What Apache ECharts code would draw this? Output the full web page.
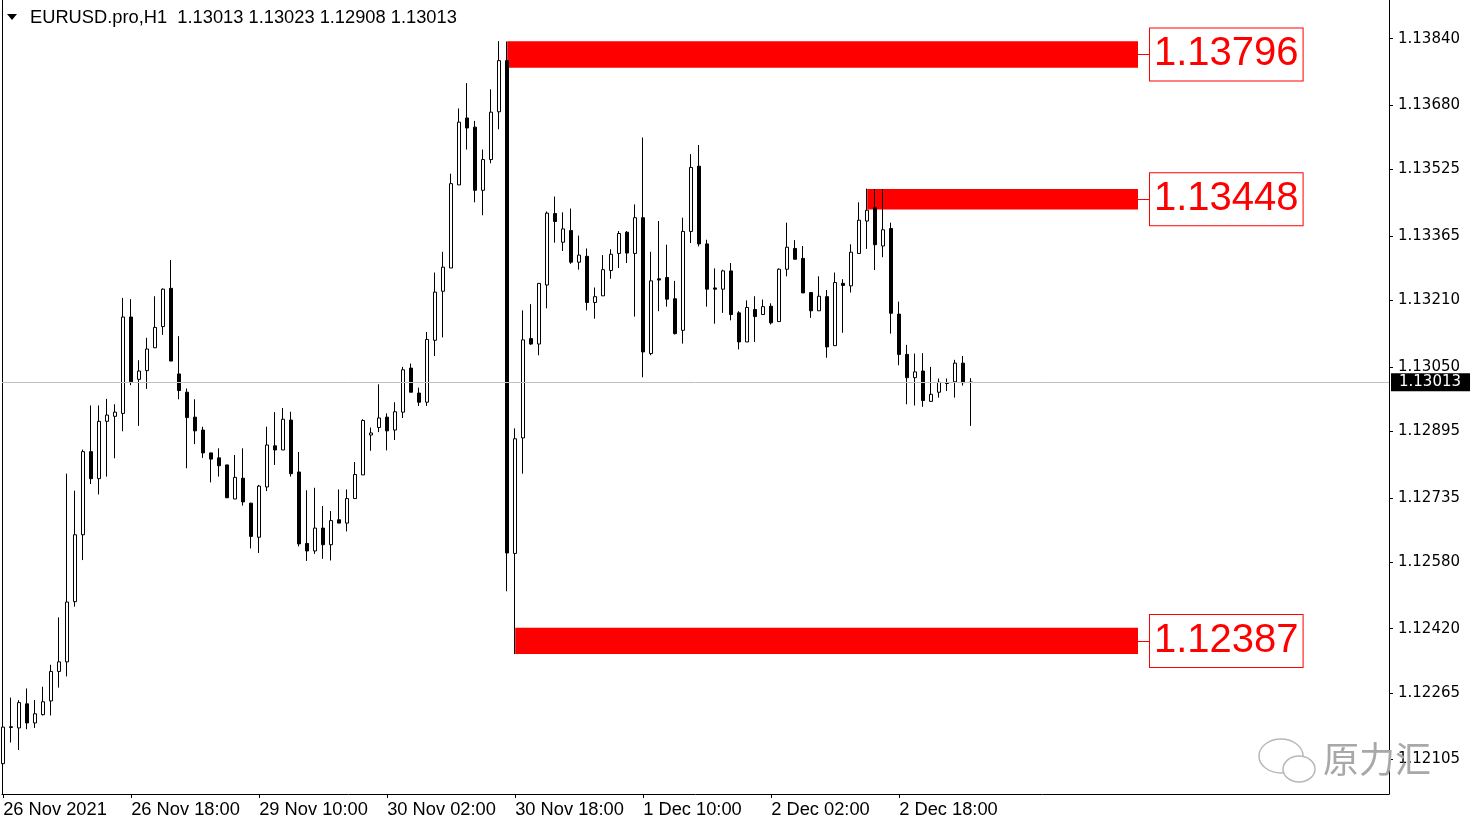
<!DOCTYPE html>
<html><head><meta charset="utf-8">
<script src="https://cdn.jsdelivr.net/npm/echarts@6/dist/echarts.min.js"></script>
<style>html,body{margin:0;padding:0;background:#fff;overflow:hidden}#c{width:1481px;height:827px}</style>
</head><body><div id="c"></div>
<script>
// ---- data ----
const symbolName = 'EURUSD.pro,H1';
const tickIndex = [0, 16, 32, 48, 64, 80, 96, 112];
const tickLabels = ['26 Nov 2021', '26 Nov 18:00', '29 Nov 10:00', '30 Nov 02:00', '30 Nov 18:00', '1 Dec 10:00', '2 Dec 02:00', '2 Dec 18:00'];
const priceTicks = [1.12105, 1.12265, 1.12420, 1.12580, 1.12735, 1.12895, 1.13050, 1.13210, 1.13365, 1.13525, 1.13680, 1.13840];

const opens = [1.12095,1.12182,1.12181,1.12239,1.12193,1.12213,1.12246,1.12317,1.12340,1.12485,
1.12646,1.12846,1.12781,1.12919,1.12931,1.12938,1.13170,1.13020,1.13041,1.13096,
1.13147,1.13239,1.13033,1.12989,1.12929,1.12898,1.12843,1.12831,1.12814,1.12732,
1.12782,1.12722,1.12640,1.12761,1.12860,1.12850,1.12922,1.12797,1.12625,1.12607,
1.12662,1.12622,1.12682,1.12674,1.12733,1.12790,1.12886,1.12904,1.12929,1.12898,
1.12941,1.13047,1.12987,1.12965,1.13114,1.13232,1.13288,1.13488,1.13649,1.13627,
1.13475,1.13549,1.13664,1.13787,1.12601,1.12879,1.13118,1.13105,1.13247,1.13419,
1.13350,1.13378,1.13302,1.13316,1.13205,1.13221,1.13282,1.13323,1.13374,1.13323,
1.13409,1.13082,1.13262,1.13265,1.13214,1.13138,1.13376,1.13533,1.13346,1.13240,
1.13237,1.13281,1.13180,1.13110,1.13188,1.13176,1.13196,1.13159,1.13285,1.13335,
1.13311,1.13229,1.13185,1.13219,1.13101,1.13251,1.13245,1.13323,1.13401,1.13433,
1.13341,1.13383,1.13177,1.13080,1.13024,1.13040,1.12967,1.12989,1.13010,1.13014,
1.13059,1.13013];
const highs = [1.12254,1.12254,1.12248,1.12276,1.12248,1.12280,1.12333,1.12447,1.12793,1.12752,
1.12851,1.12957,1.12957,1.12973,1.12960,1.13216,1.13213,1.13066,1.13120,1.13220,
1.13239,1.13307,1.13124,1.12998,1.12972,1.12906,1.12843,1.12854,1.12814,1.12838,
1.12854,1.12723,1.12766,1.12906,1.12941,1.12951,1.12942,1.12845,1.12753,1.12759,
1.12715,1.12703,1.12755,1.12755,1.12821,1.12924,1.12904,1.13008,1.12938,1.12965,
1.13050,1.13058,1.13000,1.13134,1.13277,1.13327,1.13515,1.13672,1.13733,1.13642,
1.13573,1.13718,1.13834,1.13833,1.12902,1.13186,1.13201,1.13251,1.13424,1.13460,
1.13422,1.13431,1.13366,1.13335,1.13241,1.13319,1.13333,1.13377,1.13377,1.13441,
1.13602,1.13327,1.13401,1.13344,1.13257,1.13409,1.13562,1.13584,1.13356,1.13287,
1.13284,1.13300,1.13184,1.13210,1.13220,1.13212,1.13203,1.13287,1.13397,1.13355,
1.13341,1.13229,1.13268,1.13235,1.13277,1.13261,1.13345,1.13446,1.13479,1.13478,
1.13478,1.13397,1.13207,1.13103,1.13082,1.13083,1.13050,1.13022,1.13022,1.13067,
1.13076,1.13023];
const lows = [1.12068,1.12146,1.12128,1.12178,1.12181,1.12211,1.12211,1.12278,1.12305,1.12473,
1.12585,1.12768,1.12743,1.12786,1.12830,1.12895,1.13006,1.12908,1.12997,1.13096,
1.13127,1.13064,1.12972,1.12806,1.12864,1.12831,1.12772,1.12786,1.12735,1.12732,
1.12716,1.12613,1.12602,1.12751,1.12814,1.12850,1.12786,1.12618,1.12583,1.12600,
1.12588,1.12584,1.12674,1.12654,1.12733,1.12790,1.12848,1.12893,1.12849,1.12874,
1.12927,1.12989,1.12956,1.12956,1.13076,1.13121,1.13288,1.13488,1.13573,1.13446,
1.13415,1.13540,1.13622,1.12510,1.12359,1.12793,1.13103,1.13078,1.13191,1.13349,
1.13329,1.13298,1.13284,1.13186,1.13166,1.13221,1.13262,1.13288,1.13300,1.13171,
1.13025,1.13078,1.13184,1.13195,1.13128,1.13106,1.13348,1.13340,1.13195,1.13154,
1.13180,1.13162,1.13092,1.13110,1.13110,1.13176,1.13152,1.13159,1.13268,1.13309,
1.13228,1.13168,1.13185,1.13072,1.13101,1.13132,1.13229,1.13323,1.13334,1.13283,
1.13314,1.13130,1.13054,1.12960,1.12957,1.12954,1.12966,1.12976,1.12992,1.12976,
1.13005,1.12908];
const closes = [1.12183,1.12184,1.12242,1.12193,1.12215,1.12244,1.12317,1.12340,1.12484,1.12646,
1.12846,1.12781,1.12919,1.12934,1.12941,1.13170,1.13014,1.13040,1.13093,1.13145,
1.13237,1.13064,1.12993,1.12928,1.12896,1.12843,1.12828,1.12812,1.12735,1.12784,
1.12725,1.12642,1.12763,1.12862,1.12850,1.12924,1.12793,1.12624,1.12607,1.12662,
1.12622,1.12680,1.12674,1.12733,1.12791,1.12921,1.12891,1.12927,1.12896,1.12942,
1.13043,1.12989,1.12965,1.13116,1.13230,1.13290,1.13491,1.13639,1.13625,1.13475,
1.13549,1.13663,1.13787,1.12602,1.12877,1.13115,1.13105,1.13251,1.13420,1.13400,
1.13382,1.13302,1.13319,1.13205,1.13219,1.13284,1.13321,1.13371,1.13324,1.13409,
1.13086,1.13257,1.13259,1.13213,1.13130,1.13376,1.13530,1.13346,1.13237,1.13237,
1.13281,1.13176,1.13110,1.13193,1.13171,1.13195,1.13156,1.13285,1.13338,1.13309,
1.13228,1.13185,1.13220,1.13098,1.13253,1.13246,1.13326,1.13403,1.13427,1.13344,
1.13380,1.13179,1.13080,1.13024,1.13038,1.12969,1.12984,1.13013,1.13011,1.13059,
1.13012,1.13013];

// supply / demand zones (start candle, end position, top, bottom, label)
const zoneStart = [63, 108, 64];
const zoneEnd = [141.85, 141.85, 141.85];
const zoneTop = [1.13834, 1.13478, 1.12422];
const zoneBottom = [1.13770, 1.13429, 1.12359];
const zoneLabels = ['1.13796', '1.13448', '1.12387'];
const lastPrice = 1.13013;

// ---- chart ----
const n = opens.length - 1;
const candles = opens.map((o, i) => [i, o, closes[i], lows[i], highs[i]]);
const RED = '#ff0000';

const zoneAreas = zoneStart.map((s, i) => [
  { xAxis: s, yAxis: zoneTop[i] },
  { xAxis: zoneEnd[i], yAxis: zoneBottom[i] }
]);
const zoneLines = zoneStart.map((s, i) => {
  const mid = (zoneTop[i] + zoneBottom[i]) / 2;
  return [
    { coord: [zoneEnd[i], mid],
      lineStyle: { color: RED, width: 1, type: 'solid' },
      label: { show: true, position: 'end', distance: 0, formatter: zoneLabels[i],
        color: RED, fontSize: 40, fontFamily: '"Liberation Sans", Arial, sans-serif',
        backgroundColor: '#ffffff', borderColor: RED, borderWidth: 1,
        padding: [5, 4, 3, 4], lineHeight: 44 } },
    { coord: [zoneEnd[i] + 1.5, mid] }
  ];
});
const priceLine = {
  yAxis: lastPrice,
  lineStyle: { color: '#c0c0c0', width: 1, type: 'solid' },
  label: { show: true, position: 'end', distance: 2, formatter: lastPrice.toFixed(5),
    color: '#ffffff', backgroundColor: '#000000', fontSize: 15,
    fontFamily: '"DejaVu Sans", Verdana, sans-serif', padding: [1, 9, 1, 8], lineHeight: 16 }
};

const headerText = symbolName + '  ' + [opens[n], highs[n], lows[n], closes[n]].map(v => v.toFixed(5)).join(' ');

const chart = echarts.init(document.getElementById('c'), null, { renderer: 'canvas' });
chart.setOption({
  animation: false,
  backgroundColor: '#ffffff',
  grid: { left: 2, right: 92, top: 0, bottom: 33, containLabel: false, outerBoundsMode: 'none' },
  xAxis: [{
    type: 'value', min: -0.15, max: 173.225, position: 'bottom',
    axisLine: { show: true, onZero: false, lineStyle: { color: '#000', width: 1 } },
    axisTick: { show: true, customValues: tickIndex, length: 4, lineStyle: { color: '#000' } },
    axisLabel: { show: true, customValues: tickIndex,
      formatter: v => { const k = tickIndex.indexOf(Math.round(v)); return k >= 0 ? tickLabels[k] : ''; },
      align: 'left', margin: 7, fontSize: 18.3, color: '#000',
      fontFamily: '"Liberation Sans", Arial, sans-serif' },
    splitLine: { show: false }
  }],
  yAxis: [{
    type: 'value', position: 'right', min: 1.12022, max: 1.13933, scale: true,
    axisLine: { show: true, onZero: false, lineStyle: { color: '#000', width: 1 } },
    axisTick: { show: true, customValues: priceTicks, length: 4, lineStyle: { color: '#000' } },
    axisLabel: { show: true, customValues: priceTicks, formatter: v => v.toFixed(5),
      margin: 9, fontSize: 15, color: '#000', fontFamily: '"DejaVu Sans", Verdana, sans-serif' },
    splitLine: { show: false }
  }, {
    type: 'value', position: 'left', min: 1.12022, max: 1.13933, scale: true,
    axisLine: { show: true, onZero: false, lineStyle: { color: '#000', width: 1 } },
    axisTick: { show: false }, axisLabel: { show: false }, splitLine: { show: false }
  }],
  series: [{
    type: 'candlestick',
    xAxisIndex: 0, yAxisIndex: 0,
    encode: { x: 0, y: [1, 2, 3, 4] },
    data: candles,
    barWidth: 4,
    z: 3,
    itemStyle: { color: '#ffffff', color0: '#000000', borderColor: '#000000', borderColor0: '#000000', borderWidth: 1 },
    markArea: { silent: true, z: 1, itemStyle: { color: RED, borderWidth: 0 }, label: { show: false }, data: zoneAreas },
    markLine: { silent: true, symbol: ['none', 'none'], animation: false, z: 4, precision: 5,
      data: zoneLines.concat([priceLine]) }
  }],
  graphic: [
    { type: 'polygon', shape: { points: [[7, 14], [17, 14], [12, 20]] }, style: { fill: '#000' } },
    { type: 'text', left: 30, top: 9, style: { text: headerText, fill: '#000',
      font: '18.3px "Liberation Sans", Arial, sans-serif' } },
    { type: 'ellipse', shape: { cx: 1281, cy: 756, rx: 22, ry: 17 }, style: { fill: '#fff', stroke: '#b8b8b8', lineWidth: 1.5 }, z: 10 },
    { type: 'ellipse', shape: { cx: 1299, cy: 769, rx: 16, ry: 13 }, style: { fill: '#fff', stroke: '#b8b8b8', lineWidth: 1.5 }, z: 11 },
    { type: 'text', left: 1323, top: 741, z: 12, style: { text: '原力汇', fill: '#a8a8a8',
      font: '36px "Noto Sans CJK SC", sans-serif' } }
  ]
});
</script>
</body></html>
